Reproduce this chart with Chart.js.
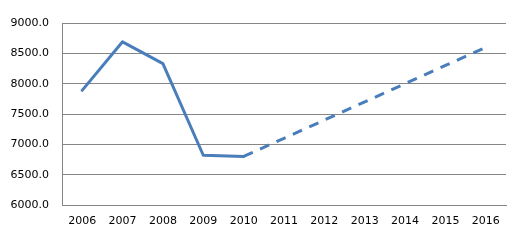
<!DOCTYPE html>
<html>
<head>
<meta charset="utf-8">
<script src="https://cdn.jsdelivr.net/npm/chart.js@4/dist/chart.umd.min.js"></script>
<style>
    html, body { margin: 0; padding: 0; background: #fff; }
    #wrap { width: 517px; height: 240px; }
</style>
</head>
<body>
<div id="wrap"><canvas id="chart"></canvas></div>
<script>
const years = ['2006', '2007', '2008', '2009', '2010', '2011', '2012', '2013', '2014', '2015', '2016'];
const actual = [7890, 8690, 8330, 6820, 6800, null, null, null, null, null, null];
const forecast = [null, null, null, null, 6800, 7100, 7400, 7700, 8000, 8300, 8600];
const yMin = 6000;
const yMax = 9000;
const yStep = 500;

const blue = '#4a7ebb';
const gridGray = '#868686';

document.addEventListener('DOMContentLoaded', () => {
    const ctx = document.getElementById('chart').getContext('2d');
    new Chart(ctx, {
        type: 'line',
        data: {
            labels: years,
            datasets: [
                {
                    data: actual,
                    borderColor: blue,
                    borderWidth: 3,
                    pointRadius: 0,
                    tension: 0,
                    borderJoinStyle: 'round',
                    borderCapStyle: 'round',
                    spanGaps: false,
                },
                {
                    data: forecast,
                    borderColor: blue,
                    borderWidth: 3,
                    borderDash: [10, 8],
                    pointRadius: 0,
                    tension: 0,
                    spanGaps: false,
                },
            ],
        },
        options: {
            responsive: true,
            maintainAspectRatio: false,
            animation: false,
            layout: { padding: { top: 23, right: 11, bottom: 0, left: 0 } },
            plugins: {
                legend: { display: false },
                tooltip: { enabled: false },
            },
            scales: {
                x: {
                    offset: true,
                    grid: { display: false, drawTicks: false, offset: true },
                    border: { display: true, color: gridGray, width: 1 },
                    ticks: {
                        color: '#000',
                        font: { family: 'DejaVu Sans', size: 11 },
                        padding: 10,
                        maxRotation: 0,
                        autoSkip: false,
                    },
                    afterFit: (s) => { s.height = 35; },
                },
                y: {
                    min: yMin,
                    max: yMax,
                    grid: { color: gridGray, lineWidth: 1, drawTicks: false },
                    border: { display: true, color: gridGray, width: 1 },
                    ticks: {
                        stepSize: yStep,
                        color: '#000',
                        font: { family: 'DejaVu Sans', size: 11 },
                        padding: 13,
                        callback: (v) => v.toFixed(1),
                    },
                    afterFit: (s) => { s.width = 62; },
                },
            },
        },
    });
});
</script>
</body>
</html>
